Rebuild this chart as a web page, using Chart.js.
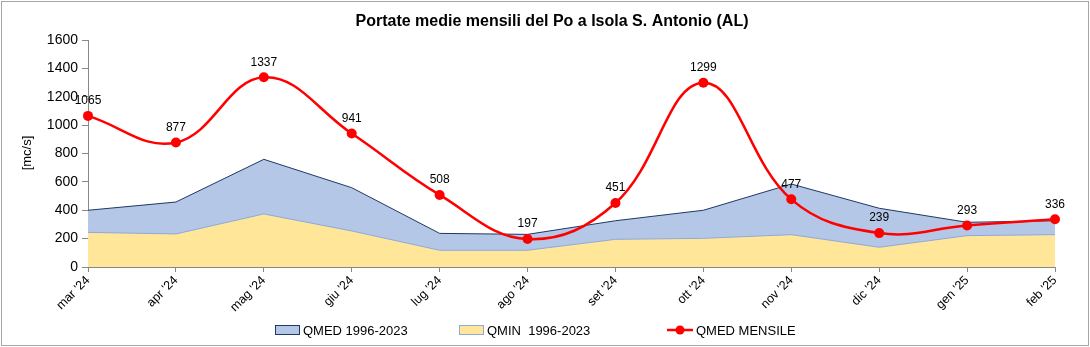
<!DOCTYPE html>
<html>
<head>
<meta charset="utf-8">
<script src="https://cdn.jsdelivr.net/npm/chart.js@4/dist/chart.umd.min.js"></script>
<style>
html,body{margin:0;padding:0;background:#fff;}
#wrap{width:1090px;height:347px;position:relative;}
</style>
</head>
<body>
<div id="wrap"><canvas id="c" width="1090" height="347"></canvas></div>
<script>
const categories = ["mar '24","apr '24","mag '24","giu '24","lug '24","ago '24","set '24","ott '24","nov '24","dic '24","gen '25","feb '25"];
const qmedStorica = [400, 458, 759, 559, 237, 230, 326, 400, 585, 414, 315, 326];
const qminStorica = [244, 233, 374, 254, 118, 118, 195, 202, 228, 139, 221, 228];
const qmedMensile = [1065, 877, 1337, 941, 508, 197, 451, 1299, 477, 239, 293, 336];
const yTicks = [0, 200, 400, 600, 800, 1000, 1200, 1400, 1600];

const titleText = "Portate medie mensili del Po a Isola S. Antonio (AL)";
const yTitle = "[mc/s]";
const legendItems = [
  {text: "QMED 1996-2023", type: "box", fill: "#B4C7E7", stroke: "#1F3864", x: 275},
  {text: "QMIN  1996-2023", type: "box", fill: "#FFE699", stroke: "#8EA9DB", x: 459},
  {text: "QMED MENSILE", type: "line", color: "#FF0000", x: 667}
];
const FONT = "'Liberation Sans', Arial, sans-serif";

const decor = {
  id: 'decor',
  beforeDraw(chart) {
    const ctx = chart.ctx;
    ctx.save();
    ctx.fillStyle = '#fff';
    ctx.fillRect(0, 0, chart.width, chart.height);
    ctx.strokeStyle = '#A6A6A6';
    ctx.lineWidth = 1;
    ctx.strokeRect(1.5, 1.5, chart.width - 3, chart.height - 3);
    ctx.restore();
  },
  afterDraw(chart) {
    const ctx = chart.ctx;
    ctx.save();
    ctx.fillStyle = '#000';
    ctx.font = "bold 16px " + FONT;
    ctx.textAlign = 'center';
    ctx.textBaseline = 'middle';
    ctx.fillText(titleText, 552, 22);
    ctx.save();
    ctx.translate(27, 153);
    ctx.rotate(-Math.PI / 2);
    ctx.font = "13px " + FONT;
    ctx.fillText(yTitle, 0, 0);
    ctx.restore();
    ctx.font = "13px " + FONT;
    ctx.textAlign = 'left';
    const ly = 330;
    legendItems.forEach(it => {
      if (it.type === 'box') {
        ctx.fillStyle = it.fill;
        ctx.fillRect(it.x, ly - 5, 25, 10);
        ctx.strokeStyle = it.stroke;
        ctx.lineWidth = 1;
        ctx.strokeRect(it.x + 0.5, ly - 4.5, 24, 9);
        ctx.fillStyle = '#000';
        ctx.fillText(it.text, it.x + 28, ly + 1);
      } else {
        ctx.strokeStyle = it.color;
        ctx.lineWidth = 2.5;
        ctx.beginPath();
        ctx.moveTo(it.x, ly);
        ctx.lineTo(it.x + 26, ly);
        ctx.stroke();
        ctx.fillStyle = it.color;
        ctx.beginPath();
        ctx.arc(it.x + 13, ly, 4.5, 0, Math.PI * 2);
        ctx.fill();
        ctx.fillStyle = '#000';
        ctx.fillText(it.text, it.x + 29, ly + 1);
      }
    });
    ctx.restore();
  },
  afterDatasetsDraw(chart) {
    const ctx = chart.ctx;
    const meta = chart.getDatasetMeta(0);
    const data = chart.data.datasets[0].data;
    ctx.save();
    ctx.fillStyle = '#000';
    ctx.font = "12px " + FONT;
    ctx.textAlign = 'center';
    ctx.textBaseline = 'middle';
    meta.data.forEach((pt, i) => {
      ctx.fillText(String(data[i]), pt.x, pt.y - 15);
    });
    ctx.restore();
  }
};

new Chart(document.getElementById('c'), {
  type: 'line',
  data: {
    labels: categories,
    datasets: [
      {
        label: 'QMED MENSILE',
        data: qmedMensile,
        borderColor: '#FF0000',
        backgroundColor: '#FF0000',
        borderWidth: 2.5,
        pointRadius: 5,
        pointBackgroundColor: '#FF0000',
        pointBorderWidth: 0,
        tension: 0.4,
        fill: false,
        order: 0
      },
      {
        label: 'QMIN  1996-2023',
        data: qminStorica,
        borderColor: '#8EA9DB',
        backgroundColor: '#FFE699',
        borderWidth: 1,
        pointRadius: 0,
        tension: 0,
        fill: 'origin',
        order: 1
      },
      {
        label: 'QMED 1996-2023',
        data: qmedStorica,
        borderColor: '#1F3864',
        backgroundColor: '#B4C7E7',
        borderWidth: 1,
        pointRadius: 0,
        tension: 0,
        fill: 'origin',
        order: 2
      }
    ]
  },
  options: {
    responsive: false,
    animation: false,
    devicePixelRatio: 1,
    layout: {padding: {top: 40, right: 35, left: 0, bottom: 0}},
    plugins: {
      legend: {display: false},
      title: {display: false},
      tooltip: {enabled: false}
    },
    scales: {
      x: {
        offset: false,
        grid: {display: true, drawOnChartArea: false, tickLength: 5, color: '#888'},
        border: {color: '#888'},
        ticks: {
          color: '#000',
          font: {family: FONT, size: 12.5},
          minRotation: 45,
          maxRotation: 45,
          padding: 1,
          autoSkip: false
        },
        afterFit(scale) { scale.height = 80; }
      },
      y: {
        min: 0,
        max: 1600,
        afterBuildTicks(scale) { scale.ticks = yTicks.map(v => ({value: v})); },
        grid: {display: true, drawOnChartArea: false, tickLength: 6, color: '#888'},
        border: {color: '#888'},
        ticks: {
          color: '#000',
          font: {family: FONT, size: 14},
          padding: 4,
          callback: (v) => String(v)
        },
        afterFit(scale) { scale.width = 88; }
      }
    }
  },
  plugins: [decor]
});
</script>
</body>
</html>
